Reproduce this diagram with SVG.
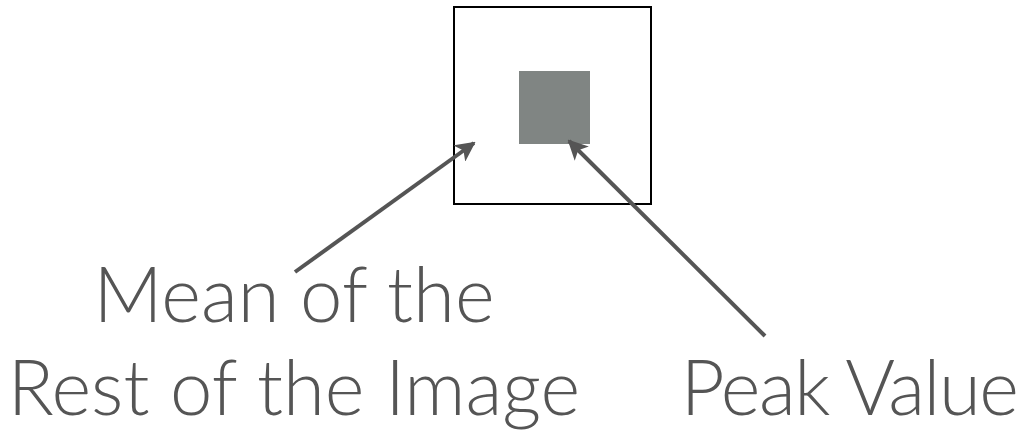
<svg xmlns="http://www.w3.org/2000/svg" width="1021" height="437" viewBox="0 0 1021 437">
<style>
.lbl{font-family:Lato,"Open Sans","Liberation Sans",sans-serif;font-weight:300;font-size:76px;fill:#555555;text-anchor:middle}
.conn{stroke:#555555;stroke-width:4;fill:none;marker-end:url(#ah)}
</style>
<defs>
<marker id="ah" viewBox="0 0 10 10" refX="9" refY="5" markerWidth="5" markerHeight="5" orient="auto" markerUnits="strokeWidth">
<path d="M0,0 L10,5 L0,10 L2.5,5 Z" fill="#555555"/>
</marker>
</defs>
<rect width="1021" height="437" fill="#ffffff"/>
<g id="outer-box"><rect x="454" y="7" width="197" height="197" fill="none" stroke="#000000" stroke-width="2"/></g>
<g id="peak-square"><rect x="519" y="71" width="71" height="73" fill="#808583"/></g>
<g id="connectors">
<line class="conn" x1="295" y1="272" x2="474" y2="143"/>
<line class="conn" x1="765" y1="336" x2="569" y2="141"/>
</g>
<g id="label-mean"><text class="lbl" x="294" y="322">Mean of the</text><text class="lbl" x="294" y="415">Rest of the Image</text></g>
<g id="label-peak"><text class="lbl" x="849" y="415" letter-spacing="-1.5">Peak Value</text></g>
</svg>
